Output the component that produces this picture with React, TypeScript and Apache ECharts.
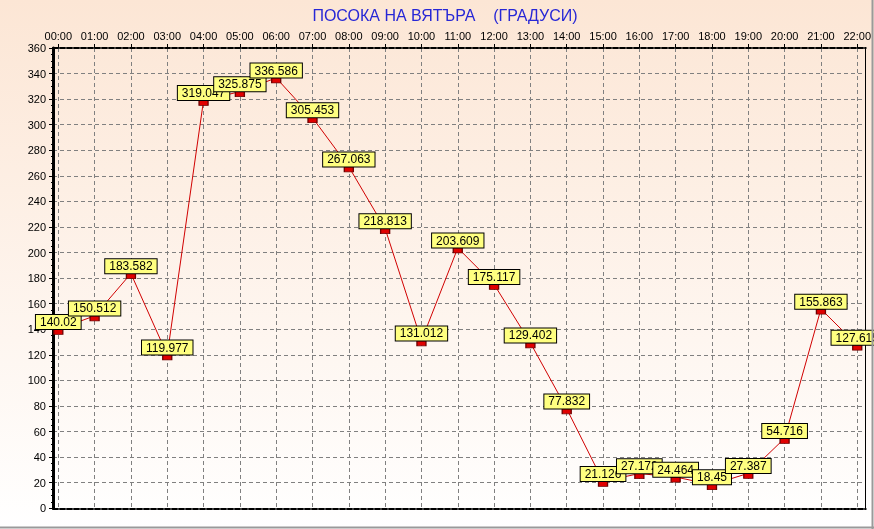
import React, { useEffect, useRef } from "react";
import * as echarts from "echarts";

const title = "ПОСОКА НА ВЯТЪРА    (ГРАДУСИ)";
const categories = [
  "00:00", "01:00", "02:00", "03:00", "04:00", "05:00", "06:00", "07:00",
  "08:00", "09:00", "10:00", "11:00", "12:00", "13:00", "14:00", "15:00",
  "16:00", "17:00", "18:00", "19:00", "20:00", "21:00", "22:00",
];
const windDirection = [
  140.02, 150.512, 183.582, 119.977, 319.047, 325.875, 336.586, 305.453,
  267.063, 218.813, 131.012, 203.609, 175.117, 129.402, 77.832, 21.126,
  27.172, 24.464, 18.45, 27.387, 54.716, 155.863, 127.615,
];
const yMin = 0;
const yMax = 360;
const yStep = 20;

const FONT = "'Liberation Sans', Arial, sans-serif";

export default function App() {
  const ref = useRef<HTMLDivElement>(null);
  useEffect(() => {
    if (!ref.current) return;
    const chart = echarts.init(ref.current, null, { renderer: "svg" });
    const dashed = { color: "#808080", width: 1, type: [4, 3] as number[] };
    const frameAxisX = (position: string) => ({
      type: "value",
      gridIndex: 1,
      position,
      min: 0,
      max: 1,
      axisLine: { show: true, onZero: false, lineStyle: { color: "#000", width: 2, type: [5, 2] } },
      axisTick: { show: false },
      axisLabel: { show: false },
      splitLine: { show: false },
    });
    chart.setOption({
      animation: false,
      graphic: [
        {
          type: "rect",
          z: -10,
          silent: true,
          shape: { x: 0, y: 0, width: 874, height: 529 },
          style: {
            fill: new echarts.graphic.LinearGradient(0, 0, 0, 1, [
              { offset: 0, color: "#FCE6D5" },
              { offset: 1, color: "#FFFFFF" },
            ]),
          },
        },
        {
          type: "line",
          z: 10,
          shape: { x1: 0, y1: 527.5, x2: 874, y2: 527.5 },
          style: { stroke: "#9a9a9a", lineWidth: 2 },
        },
        {
          type: "line",
          z: 10,
          shape: { x1: 872.5, y1: 0, x2: 872.5, y2: 529 },
          style: { stroke: "#9a9a9a", lineWidth: 2 },
        },
        {
          type: "text",
          x: 445,
          y: 15,
          style: {
            text: title,
            fill: "#2727d6",
            font: "16px " + FONT,
            textAlign: "center",
            textVerticalAlign: "middle",
          },
        },
      ],
      grid: [
        { left: 58.3, right: 12.3, top: 48, bottom: 20.7 },
        { left: 53, right: 8.3, top: 48, bottom: 20.7 },
      ],
      xAxis: [
        {
          type: "value",
          gridIndex: 0,
          position: "top",
          min: 0,
          max: categories.length - 1,
          interval: 1,
          axisLine: { show: false, onZero: false },
          axisTick: { show: true, length: 4, lineStyle: { color: "#000" } },
          axisLabel: {
            formatter: (v: number) => categories[v] ?? "",
            fontSize: 11,
            fontFamily: FONT,
            color: "#000",
            margin: 7,
          },
          splitLine: { show: true, lineStyle: dashed },
        },
        frameAxisX("bottom"),
        frameAxisX("top"),
      ],
      yAxis: [
        {
          type: "value",
          gridIndex: 0,
          min: yMin,
          max: yMax,
          interval: yStep,
          show: false,
        },
        {
          type: "value",
          gridIndex: 1,
          position: "left",
          min: yMin,
          max: yMax,
          interval: yStep,
          axisLine: { show: true, onZero: false, lineStyle: { color: "#000", width: 3 } },
          axisTick: { show: true, length: 4, lineStyle: { color: "#000" } },
          minorTick: { show: true, splitNumber: 4, length: 2, lineStyle: { color: "#000" } },
          axisLabel: { fontSize: 11, fontFamily: FONT, color: "#000", margin: 7 },
          splitLine: { show: true, lineStyle: dashed },
        },
        {
          type: "value",
          gridIndex: 1,
          position: "right",
          min: yMin,
          max: yMax,
          axisLine: { show: true, onZero: false, lineStyle: { color: "#000", width: 1 } },
          axisTick: { show: false },
          axisLabel: { show: false },
          splitLine: { show: false },
        },
      ],
      series: [
        {
          type: "line",
          xAxisIndex: 0,
          yAxisIndex: 0,
          data: windDirection.map((v, i) => [i, v]),
          lineStyle: { color: "#d00000", width: 1 },
          symbol: "rect",
          symbolSize: [9, 5],
          symbolOffset: [0, 2.5],
          showSymbol: true,
          showAllSymbol: true,
          itemStyle: { color: "#e00000", borderColor: "#700000", borderWidth: 1 },
          label: {
            show: true,
            position: "top",
            distance: 0,
            formatter: (p: any) => String(p.value[1]),
            fontSize: 12,
            fontFamily: FONT,
            color: "#000",
            backgroundColor: "#FFFF80",
            borderColor: "#000",
            borderWidth: 1,
            padding: [1, 4, 1, 4],
            lineHeight: 12,
          },
          emphasis: { disabled: true },
        },
      ],
    });
    return () => chart.dispose();
  }, []);
  return (
    <div
      ref={ref}
      style={{ position: "fixed", left: 0, top: 0, width: 874, height: 529 }}
    />
  );
}
